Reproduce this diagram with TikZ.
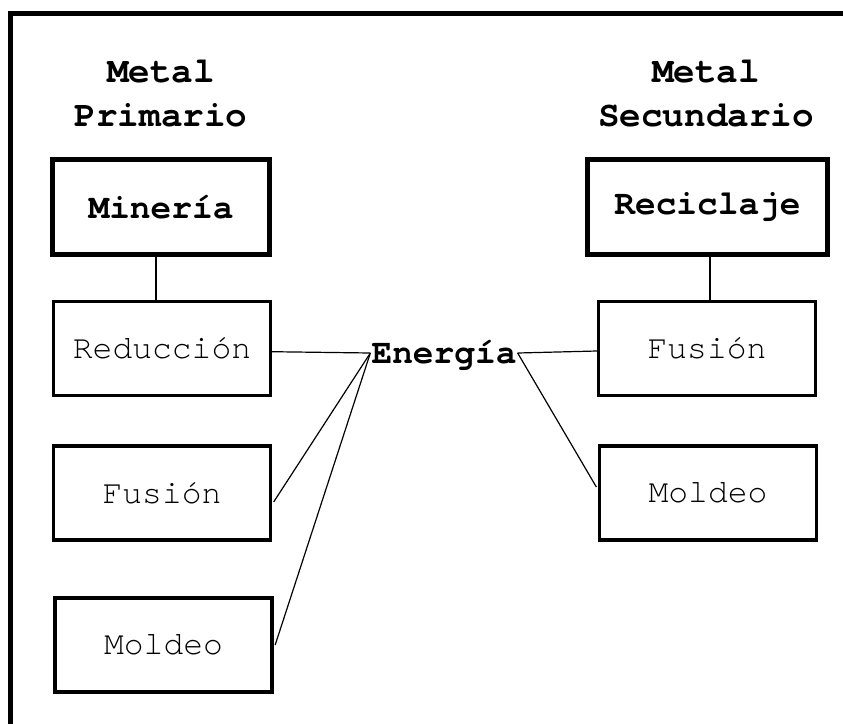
\documentclass[tikz,border=0pt]{standalone}
\usepackage{fontspec}
\setmonofont{TeX Gyre Cursor}
\begin{document}
\begin{tikzpicture}[x=1pt,y=-1pt,
  hdr/.style={font=\ttfamily\bfseries\fontsize{36}{44}\selectfont, align=center, inner sep=0pt},
  mainbox/.style={draw, line width=5pt, minimum height=95pt, inner sep=0pt,
    font=\ttfamily\bfseries\fontsize{34.5}{40}\selectfont},
  stepbox/.style={draw, line width=3.3pt, minimum width=217pt, minimum height=94pt, inner sep=0pt,
    font=\ttfamily\fontsize{33}{40}\selectfont},
  hub/.style={inner sep=0pt, font=\ttfamily\bfseries\fontsize{34.5}{40}\selectfont},
  link/.style={line width=1.2pt}]
\useasboundingbox (0,0) rectangle (843,723);

% outer frame (only its top and left sides fall on the page)
\draw[line width=5pt] (10.8,730) -- (10.8,13) -- (850,13);

% column headers
\node[hdr] (hp) at (161,93.5) {Metal\\Primario};
\node[hdr] (hs) at (706,93.5) {Metal\\Secundario};

% primary route
\node[mainbox, minimum width=217pt] (min) at (161,207) {Minería};
\node[stepbox] (red) at (162,348.5) {Reducción};
\node[stepbox] (fusL) at (162,493) {Fusión};
\node[stepbox] (modL) at (163.5,645) {Moldeo};

% secondary route
\node[mainbox, minimum width=240pt] (rec) at (707.5,207) {Reciclaje};
\node[stepbox] (fusR) at (707,348.5) {Fusión};
\node[stepbox] (modR) at (708,493) {Moldeo};

% energy hub
\node[hub] (en) at (444,355.5) {Energía};
\coordinate (eL) at ([xshift=-1pt,yshift=2.5pt]en.west);
\coordinate (eR) at ([xshift=1pt,yshift=2.5pt]en.east);

% connectors
\draw[link] ([xshift=-5pt]min.south) -- ([xshift=-6pt]red.north);
\draw[link] ([xshift=2.5pt]rec.south) -- ([xshift=3pt]fusR.north);
\draw[link] ([yshift=-3.2pt]red.east) -- (eL);
\draw[link] ([xshift=1.5pt,yshift=-9pt]fusL.east) -- (eL);
\draw[link] ([xshift=1.5pt]modL.east) -- (eL);
\draw[link] (eR) -- ([yshift=-2.5pt]fusR.west);
\draw[link] (eR) -- ([xshift=-1.5pt,yshift=6pt]modR.west);
\end{tikzpicture}
\end{document}
